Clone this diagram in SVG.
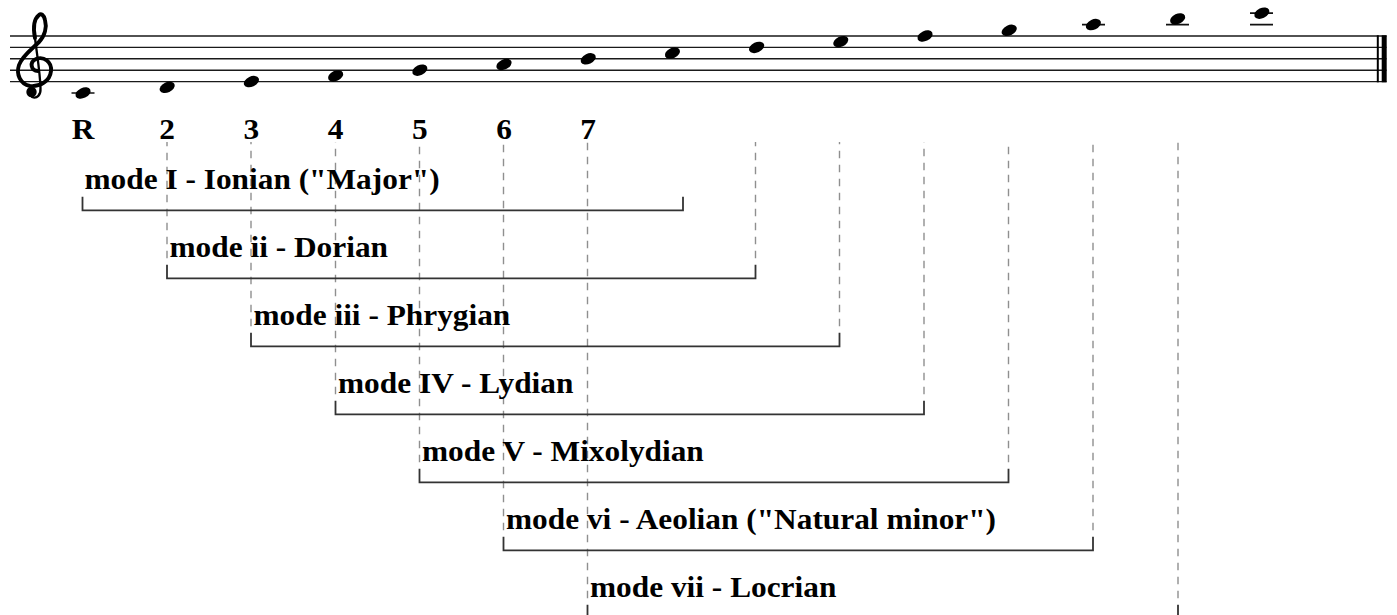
<svg xmlns="http://www.w3.org/2000/svg" xmlns:xlink="http://www.w3.org/1999/xlink" width="1397" height="615" viewBox="0 0 1397 615">
  <style>
    .staff { stroke: #1a1a1a; stroke-width: 1.4; fill: none; }
    .ledger { stroke: #111; stroke-width: 1.7; fill: none; }
    .note { fill: #000; }
    .clef { fill: none; stroke: #000; stroke-linecap: round; stroke-linejoin: round; }
    .lbl { font-family: "Liberation Serif", "Times New Roman", serif; font-weight: bold; font-size: 30px; fill: #000; }
    .deg { text-anchor: middle; }
    .bracket { fill: none; stroke: #333; stroke-width: 1.8; }
    .guide { fill: none; stroke: #8f8f8f; stroke-width: 1.4; stroke-dasharray: 7.5 6.5; stroke-dashoffset: 7.5; }
  </style>
  <defs>
    <ellipse id="nh" cx="0" cy="0" rx="8" ry="5.1" transform="rotate(-25)"/>
  </defs>

  <rect width="1397" height="615" fill="#fff"/>

  <!-- five-line staff with final double barline -->
  <g id="staff">
    <path class="staff" d="M10,36 H1386.5 M10,47.4 H1386.5 M10,58.8 H1386.5 M10,70.2 H1386.5 M10,81.6 H1386.5"/>
    <line x1="1377.8" y1="35.3" x2="1377.8" y2="82.3" stroke="#000" stroke-width="2"/>
    <line x1="1384.2" y1="35.3" x2="1384.2" y2="82.3" stroke="#000" stroke-width="5"/>
  </g>

  <!-- treble clef -->
  <g id="clef">
    <path class="clef" stroke-width="3.9" d="M38,71 C31,71 29,62 36,59 C44,56 52,62 51,71 C50,81 40,87 30,86 C20,84 16,74 19,65 C22,56 32,49 39,42 C45,36 47,27 45,20 C44,15 41,13 39,15 C34,19 33,28 35,38"/>
    <path class="clef" stroke-width="2.3" d="M35,38 C37,55 40,72 40.5,88 C41,95 37,99 32,97"/>
    <circle cx="31.5" cy="92" r="5.2"/>
  </g>

  <!-- two octaves of C major, C4 to C6 -->
  <g id="notes" class="note">
    <path class="ledger" d="M71.5,93 H94.5 M1082,24.6 H1105 M1166,24.6 H1189 M1250,24.6 H1273 M1250,13.2 H1273"/>
    <use xlink:href="#nh" x="83" y="93"/>
    <use xlink:href="#nh" x="167.2" y="87.3"/>
    <use xlink:href="#nh" x="251.4" y="81.6"/>
    <use xlink:href="#nh" x="335.6" y="75.9"/>
    <use xlink:href="#nh" x="419.8" y="70.2"/>
    <use xlink:href="#nh" x="504" y="64.5"/>
    <use xlink:href="#nh" x="588.2" y="58.8"/>
    <use xlink:href="#nh" x="672.4" y="53.1"/>
    <use xlink:href="#nh" x="756.6" y="47.4"/>
    <use xlink:href="#nh" x="840.8" y="41.7"/>
    <use xlink:href="#nh" x="925" y="36"/>
    <use xlink:href="#nh" x="1009.2" y="30.3"/>
    <use xlink:href="#nh" x="1093.4" y="24.6"/>
    <use xlink:href="#nh" x="1177.6" y="18.9"/>
    <use xlink:href="#nh" x="1261.8" y="13.2"/>
  </g>

  <!-- scale degree labels -->
  <g id="degrees" class="lbl deg">
    <text transform="translate(83,138.5) scale(1.045,1)">R</text>
    <text transform="translate(167.2,138.5) scale(1.045,1)">2</text>
    <text transform="translate(251.4,138.5) scale(1.045,1)">3</text>
    <text transform="translate(335.6,138.5) scale(1.045,1)">4</text>
    <text transform="translate(419.8,138.5) scale(1.045,1)">5</text>
    <text transform="translate(504,138.5) scale(1.045,1)">6</text>
    <text transform="translate(588.2,138.5) scale(1.045,1)">7</text>
  </g>

  <!-- dashed guides from each degree down to its mode bracket -->
  <g id="connectors" class="guide">
    <path d="M167,264.8 V142"/>
    <path d="M251,332.8 V142"/>
    <path d="M335.5,400.8 V142"/>
    <path d="M419.5,468.8 V142"/>
    <path d="M503.5,536.8 V142"/>
    <path d="M587.5,604.8 V142"/>
    <path d="M755.5,264.8 V142"/>
    <path d="M839.5,332.8 V142"/>
    <path d="M924,400.8 V142"/>
    <path d="M1008.5,468.8 V142"/>
    <path d="M1093,536.8 V142"/>
    <path d="M1178,604.8 V142"/>
  </g>

  <!-- the seven modes -->
  <g id="mode-1">
    <path class="bracket" d="M82.5,196.8 V210.3 H683 V196.8"/>
    <text class="lbl" transform="translate(84.5,188.5) scale(1.045,1)">mode I - Ionian ("Major")</text>
  </g>
  <g id="mode-2">
    <path class="bracket" d="M167,264.8 V278.3 H755.5 V264.8"/>
    <text class="lbl" transform="translate(169.5,256.5) scale(1.045,1)">mode ii - Dorian</text>
  </g>
  <g id="mode-3">
    <path class="bracket" d="M251,332.8 V346.3 H839.5 V332.8"/>
    <text class="lbl" transform="translate(253.5,324.5) scale(1.045,1)">mode iii - Phrygian</text>
  </g>
  <g id="mode-4">
    <path class="bracket" d="M335.5,400.8 V414.3 H924 V400.8"/>
    <text class="lbl" transform="translate(338,392.5) scale(1.045,1)">mode IV - Lydian</text>
  </g>
  <g id="mode-5">
    <path class="bracket" d="M419.5,468.8 V482.3 H1008.5 V468.8"/>
    <text class="lbl" transform="translate(422,460.5) scale(1.045,1)">mode V - Mixolydian</text>
  </g>
  <g id="mode-6">
    <path class="bracket" d="M503.5,536.8 V550.3 H1093 V536.8"/>
    <text class="lbl" transform="translate(506,528.5) scale(1.045,1)">mode vi - Aeolian ("Natural minor")</text>
  </g>
  <g id="mode-7">
    <path class="bracket" d="M587.5,604.8 V618.3 H1178 V604.8"/>
    <text class="lbl" transform="translate(590,596.5) scale(1.045,1)">mode vii - Locrian</text>
  </g>
</svg>
